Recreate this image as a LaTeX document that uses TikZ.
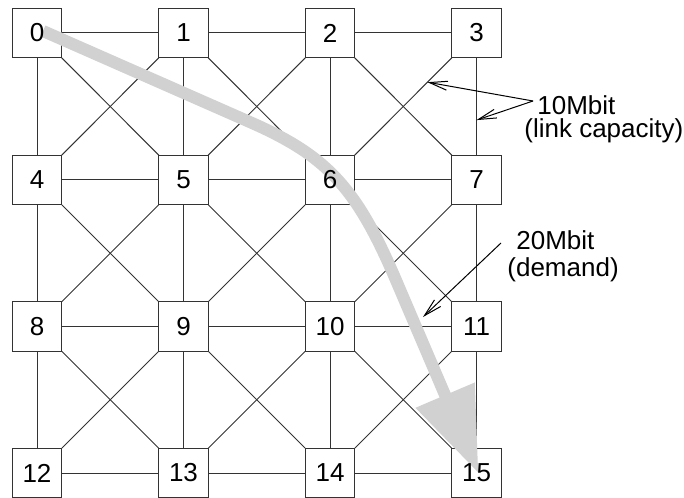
\documentclass[tikz,border=0pt]{standalone}
\usepackage{fontspec}
\setmainfont{Liberation Sans}
\usetikzlibrary{arrows.meta,calc}
\pgfdeclarelayer{links}
\pgfdeclarelayer{flow}
\pgfsetlayers{links,flow,main}

\begin{document}
\begin{tikzpicture}[x=0.5pt, y=-0.5pt,
  router/.style={rectangle, minimum size=24.5pt, inner sep=0pt,
                 font=\fontsize{13}{11.7}\selectfont},
  boxline/.style={draw=black!80, line width=0.5pt},
  link/.style={draw=black!80, line width=0.5pt},
  note/.style={align=left, inner sep=0pt, anchor=north west,
               font=\fontsize{13}{11.7}\selectfont},
  ptr/.style={-{Straight Barb[length=9pt,width=4.5pt]}, line width=0.5pt},
  demand/.style={-{Triangle[length=42.5pt,width=30.5pt]}, line width=6pt, draw=black!18}
]
\useasboundingbox (0,0) rectangle (684,497);

% Routers
\node[router] (n0)  at ( 37,  33) {0};
\node[router] (n1)  at (183.5, 33) {1};
\node[router] (n2)  at (330,  33) {2};
\node[router] (n3)  at (476.5, 33) {3};

\node[router] (n4)  at ( 37, 180) {4};
\node[router] (n5)  at (183.5,180) {5};
\node[router] (n6)  at (330, 180) {6};
\node[router] (n7)  at (476.5,180) {7};

\node[router] (n8)  at ( 37, 326.5) {8};
\node[router] (n9)  at (183.5,326.5) {9};
\node[router] (n10) at (330, 326.5) {10};
\node[router] (n11) at (476.5,326.5) {11};

\node[router] (n12) at ( 37, 473) {12};
\node[router] (n13) at (183.5,473) {13};
\node[router] (n14) at (330, 473) {14};
\node[router] (n15) at (476.5,473) {15};

% Boxes and links
\begin{pgfonlayer}{links}
\foreach \k in {0,...,15}
  \draw[boxline] (n\k.south west) rectangle (n\k.north east);

\draw[link] (n0) -- (n1) -- (n2) -- (n3);
\draw[link] (n4) -- (n5) -- (n6) -- (n7);
\draw[link] (n8) -- (n9) -- (n10) -- (n11);
\draw[link] (n12) -- (n13) -- (n14) -- (n15);

\draw[link] (n0) -- (n4) -- (n8) -- (n12);
\draw[link] (n1) -- (n5) -- (n9) -- (n13);
\draw[link] (n2) -- (n6) -- (n10) -- (n14);
\draw[link] (n3) -- (n7) -- (n11) -- (n15);

\draw[link] (n0) -- (n5) -- (n10) -- (n15);
\draw[link] (n1) -- (n6) -- (n11);
\draw[link] (n2) -- (n7);
\draw[link] (n4) -- (n9) -- (n14);
\draw[link] (n8) -- (n13);

\draw[link] (n3) -- (n6) -- (n9) -- (n12);
\draw[link] (n2) -- (n5) -- (n8);
\draw[link] (n1) -- (n4);
\draw[link] (n7) -- (n10) -- (n13);
\draw[link] (n11) -- (n14);
\end{pgfonlayer}

% Demand path
\begin{pgfonlayer}{flow}
\draw[demand] ($(n0.center)+(6,-2)$) -- (250,122.1)
  .. controls (327.2,156) and (356.4,187.6) .. (395.9,280)
  -- ($(n15.center)+(2,0.3)$);
\end{pgfonlayer}

% Labels
\node[note] (capnote) at (524,95) {\hspace*{6.5pt}10Mbit\\(link capacity)};
\node[note] (demnote) at (507,230) {\hspace*{4.5pt}20Mbit\\[1.8pt](demand)};

\coordinate (capsrc) at (533,101);
\coordinate (demsrc) at (501,243);
\coordinate (demtip) at (423,317);

\draw[ptr] (capsrc) -- ($(n3.south west)!0.25!(n6.north east)$);
\draw[ptr] (capsrc) -- ($(n3.south)!0.64!(n7.north)$);
\draw[ptr] (demsrc) -- (demtip);
\end{tikzpicture}
\end{document}
